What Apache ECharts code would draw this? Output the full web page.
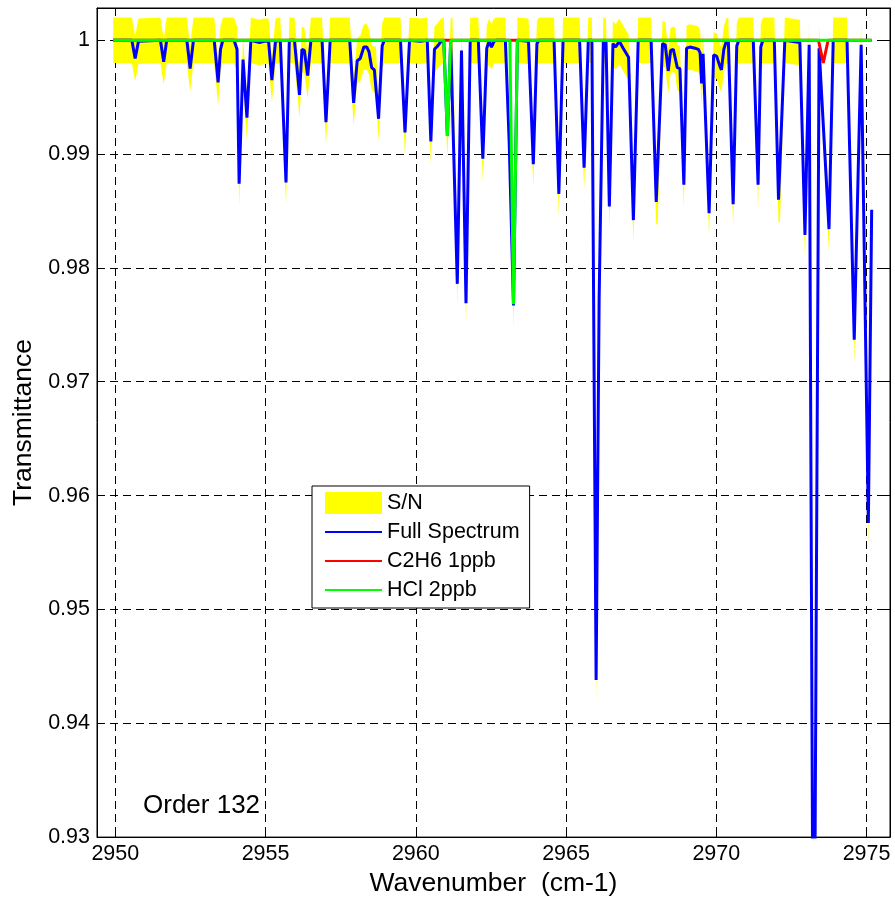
<!DOCTYPE html>
<html><head><meta charset="utf-8">
<script src="https://cdn.jsdelivr.net/npm/echarts@6/dist/echarts.min.js"></script>
<style>html,body{margin:0;padding:0;background:#fff}#c{width:895px;height:902px}</style>
</head><body><div id="c"></div>
<script>
// Full spectrum (wavenumber, transmittance)
const specX = [
2949.93,2950.55,2950.66,2950.77,2951.50,2951.61,2951.71,2952.38,2952.49,2952.60,
2953.29,2953.42,2953.50,2953.58,2953.95,2954.05,2954.12,2954.25,2954.38,2954.51,
2954.80,2954.95,2955.10,2955.21,2955.33,2955.49,2955.68,2955.79,2955.96,2956.13,
2956.21,2956.29,2956.40,2956.51,2956.88,2957.01,2957.15,2957.80,2957.93,2958.05,
2958.15,2958.27,2958.37,2958.44,2958.53,2958.62,2958.67,2958.76,2958.88,2958.95,
2959.49,2959.64,2959.79,2960.15,2960.38,2960.50,2960.62,2960.73,2960.84,2960.93,
2961.05,2961.16,2961.22,2961.38,2961.52,2961.67,2961.81,2962.08,2962.23,2962.36,
2962.44,2962.52,2962.60,2962.70,2962.98,2963.11,2963.25,2963.38,2963.75,2963.91,
2964.03,2964.10,2964.60,2964.76,2964.90,2965.45,2965.60,2965.74,2965.86,2966.00,
2966.10,2966.24,2966.33,2966.44,2966.56,2966.65,2966.77,2966.90,2967.08,2967.24,
2967.40,2967.83,2968.00,2968.05,2968.21,2968.30,2968.40,2968.48,2968.57,2968.63,
2968.70,2968.79,2968.92,2969.01,2969.12,2969.29,2969.40,2969.46,2969.51,2969.56,
2969.76,2969.91,2970.01,2970.12,2970.17,2970.25,2970.33,2970.40,2970.56,2970.68,
2970.75,2971.23,2971.39,2971.48,2971.55,2971.93,2972.07,2972.12,2972.28,2972.78,
2972.95,2973.09,2973.24,2973.42,2973.75,2973.89,2974.35,2974.59,2974.82,2975.06,
2975.17];
const specY = [
1.0000,1.0000,0.9984,0.9999,1.0000,0.9981,1.0000,1.0000,0.9975,1.0000,
1.0000,0.9963,0.9992,1.0000,1.0000,0.9992,0.9874,0.9983,0.9932,1.0000,
0.9998,0.9999,0.9999,0.9965,0.9999,1.0000,0.9875,1.0000,1.0000,0.9952,
0.9992,0.9991,0.9969,1.0000,1.0000,0.9928,1.0000,1.0000,0.9945,0.9982,
0.9984,0.9994,0.9994,0.9990,0.9976,0.9974,0.9975,0.9931,0.9995,1.0000,
1.0000,0.9919,1.0000,0.9999,1.0000,0.9911,0.9992,0.9995,0.9999,1.0000,
0.9916,0.9999,1.0000,0.9786,0.9991,0.9769,1.0000,1.0000,0.9896,0.9993,
0.9999,0.9994,0.9999,1.0000,1.0000,0.9908,0.9767,1.0000,0.9999,0.9891,
0.9997,1.0000,1.0000,0.9865,1.0000,1.0000,0.9888,1.0000,1.0000,0.9438,
0.9772,1.0000,0.9999,0.9854,0.9997,0.9994,0.9999,0.9993,0.9985,0.9842,
1.0000,1.0000,0.9858,0.9859,0.9997,0.9996,0.9973,0.9991,0.9992,0.9991,
0.9976,0.9975,0.9873,0.9993,0.9994,0.9993,0.9992,0.9989,0.9962,0.9988,
0.9848,0.9987,0.9986,0.9977,0.9974,0.9992,0.9999,1.0000,0.9856,0.9995,
1.0000,1.0000,0.9873,0.9994,1.0000,1.0000,0.9860,0.9860,1.0000,0.9998,
0.9829,0.9996,0.9050,0.9993,0.9834,1.0000,1.0000,0.9737,0.9996,0.9576,
0.9851];
// C2H6 1 ppb
const c2h6X = [2949.93, 2973.40, 2973.56, 2973.72, 2975.17];
const c2h6Y = [1.0000, 1.0000, 0.9980, 1.0000, 1.0000];
// HCl 2 ppb
const hclX = [2949.93, 2960.93, 2961.05, 2961.16, 2963.13, 2963.25, 2963.38, 2975.17];
const hclY = [1.0000, 1.0000, 0.9916, 1.0000, 1.0000, 0.9768, 1.0000, 1.0000];
// S/N half width (noise level)
const snNoise = 0.002;
// Tick labels
const xTicks = [2950, 2955, 2960, 2965, 2970, 2975];
const yTicks = [0.93, 0.94, 0.95, 0.96, 0.97, 0.98, 0.99, 1];

const zip = (xs, ys) => xs.map((x, i) => [x, ys[i]]);
const FONT = '"Liberation Sans", Arial, sans-serif';
const X_MIN = 2949.39, X_MAX = 2975.78, Y_MIN = 0.93, Y_MAX = 1.00283;

const chart = echarts.init(document.getElementById('c'), null, {renderer: 'canvas'});
const axisCommon = {
  type: 'value',
  axisLine: {show: true, onZero: false, lineStyle: {color: '#000', width: 1}},
  splitLine: {show: false}
};
const tickStyle = (vals) => ({show: true, inside: true, length: 8, customValues: vals, lineStyle: {color: '#000', width: 1}});
const gridDash = {color: '#000', width: 1, type: [8, 5]};

chart.setOption({
  animation: false,
  backgroundColor: '#fff',
  grid: {left: 97, top: 8, width: 793, height: 830, show: true, borderColor: '#000', borderWidth: 1, backgroundColor: '#fff'},
  xAxis: [
    Object.assign({}, axisCommon, {
      position: 'bottom', min: X_MIN, max: X_MAX,
      name: 'Wavenumber  (cm-1)', nameLocation: 'middle', nameGap: 31,
      nameTextStyle: {fontSize: 26.5, color: '#000', fontFamily: FONT},
      axisTick: tickStyle(xTicks),
      axisLabel: {customValues: xTicks, formatter: v => String(v), fontSize: 21.5, color: '#000', fontFamily: FONT, margin: 6},
      splitLine: {show: true, lineStyle: gridDash}
    }),
    Object.assign({}, axisCommon, {
      position: 'top', min: X_MIN, max: X_MAX,
      axisTick: tickStyle(xTicks),
      axisLabel: {show: false}
    })
  ],
  yAxis: [
    Object.assign({}, axisCommon, {
      position: 'left', min: Y_MIN, max: Y_MAX,
      name: 'Transmittance', nameLocation: 'middle', nameGap: 60,
      nameTextStyle: {fontSize: 26.5, color: '#000', fontFamily: FONT},
      axisTick: tickStyle(yTicks),
      axisLabel: {customValues: yTicks, formatter: v => String(+v.toFixed(2)), fontSize: 21.5, color: '#000', fontFamily: FONT, margin: 7},
      splitLine: {show: true, lineStyle: gridDash}
    }),
    Object.assign({}, axisCommon, {
      position: 'right', min: Y_MIN, max: Y_MAX,
      axisTick: tickStyle(yTicks),
      axisLabel: {show: false}
    })
  ],
  legend: {
    left: 312, top: 486, orient: 'vertical',
    padding: [6, 10, 7, 12], itemGap: 7, itemWidth: 57, itemHeight: 22,
    borderColor: '#000', borderWidth: 1, borderRadius: 0, backgroundColor: '#fff',
    selectedMode: false,
    textStyle: {fontSize: 21.5, color: '#000', fontFamily: FONT},
    data: [
      {name: 'S/N', icon: 'rect', itemStyle: {color: '#ffff00', opacity: 1, borderWidth: 0}},
      {name: 'Full Spectrum', itemStyle: {opacity: 0}},
      {name: 'C2H6 1ppb', itemStyle: {opacity: 0}},
      {name: 'HCl 2ppb', itemStyle: {opacity: 0}}
    ]
  },
  graphic: [{
    type: 'text', left: 143, top: 793, z: 100,
    style: {text: 'Order 132', font: '26px ' + FONT, fill: '#000'}
  }],
  series: [
    {
      name: 'S/N', type: 'custom', coordinateSystem: 'cartesian2d', silent: true, clip: true,
      itemStyle: {color: '#ffff00'}, z: 2,
      encode: {x: 0, y: 1},
      data: [[specX[0], specY[0]]],
      renderItem: function (params, api) {
        const upper = specX.map((x, i) => api.coord([x, specY[i] + snNoise]));
        const lower = specX.map((x, i) => api.coord([x, specY[i] - snNoise])).reverse();
        const cs = params.coordSys;
        return {
          type: 'polygon',
          shape: {points: upper.concat(lower)},
          style: {fill: '#ffff00', stroke: null},
          clipPath: {type: 'rect', shape: {x: cs.x, y: cs.y, width: cs.width, height: cs.height}}
        };
      }
    },
    {
      name: 'Full Spectrum', type: 'line', symbol: 'none', color: '#0000ff',
      data: zip(specX, specY), lineStyle: {width: 3, color: '#0000ff'}, z: 3
    },
    {
      name: 'C2H6 1ppb', type: 'line', symbol: 'none', color: '#ff0000',
      data: zip(c2h6X, c2h6Y), lineStyle: {width: 3, color: '#ff0000'}, z: 4
    },
    {
      name: 'HCl 2ppb', type: 'line', symbol: 'none', color: '#00ff00',
      data: zip(hclX, hclY), lineStyle: {width: 3, color: '#00ff00'}, z: 5
    }
  ]
});
</script></body></html>
